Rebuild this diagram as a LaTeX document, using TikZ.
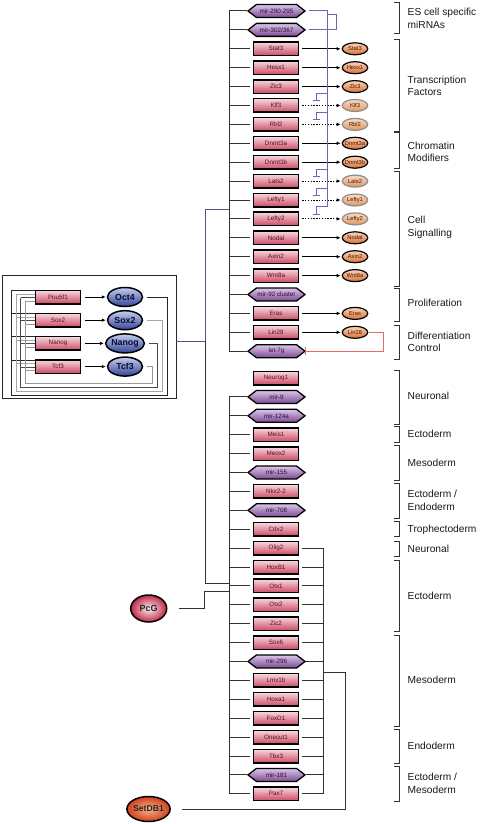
\documentclass[tikz,border=0pt]{standalone}
\usepackage{fontspec}
\setmainfont{Liberation Sans}
\usetikzlibrary{shapes.geometric,shapes.symbols,arrows.meta,calc}
\definecolor{boxT}{HTML}{F6D8DE}
\definecolor{boxB}{HTML}{CC4A66}
\definecolor{boxTx}{HTML}{5A0E1E}
\definecolor{hexT}{HTML}{DCC6EA}
\definecolor{hexB}{HTML}{7A4A92}
\definecolor{hexTx}{HTML}{2A0A3A}
\definecolor{elT}{HTML}{FAD4B6}
\definecolor{elB}{HTML}{D6703A}
\definecolor{elTx}{HTML}{4A1800}
\definecolor{elwT}{HTML}{F8DCC8}
\definecolor{elwB}{HTML}{E0955E}
\definecolor{bluT}{HTML}{C4CEF0}
\definecolor{bluB}{HTML}{34449A}
\definecolor{bluTx}{HTML}{0A0A30}
\definecolor{purp}{HTML}{6E64B4}
\definecolor{redl}{HTML}{E26A6A}
\definecolor{pcgIn}{HTML}{FBEFF2}
\definecolor{pcgOut}{HTML}{C02848}
\definecolor{sdIn}{HTML}{F6B48C}
\definecolor{sdOut}{HTML}{D0401E}
\newcommand{\ztxt}[1]{\makebox[0pt]{#1}}
\tikzset{
 gbox/.style={rectangle, draw=black, line width=1.5pt, minimum width=45pt, minimum height=13.5pt, inner sep=0pt, top color=boxT, bottom color=boxB, text=boxTx, font=\fontsize{6.3}{7}\selectfont},
 mhex/.style={signal, signal to=west and east, signal pointer angle=75, draw=black, line width=1.3pt, minimum width=57pt, minimum height=13pt, inner sep=0pt, top color=hexT, bottom color=hexB, text=hexTx, font=\fontsize{6.3}{7}\selectfont},
 tgt/.style={ellipse, draw=black, line width=1.2pt, minimum width=25.5pt, minimum height=12pt, inner sep=0pt, top color=elT, bottom color=elB, text=elTx, font=\fontsize{5.8}{6}\selectfont},
 tgtw/.style={tgt, draw=black!45, top color=elwT, bottom color=elwB},
 tfnode/.style={ellipse, draw=black, line width=1.5pt, minimum width=35pt, minimum height=19pt, inner sep=0pt, top color=bluT, bottom color=bluB, text=bluTx, font=\fontsize{8.8}{9}\selectfont\bfseries},
 tick/.style={draw=black!80, line width=1pt},
 arr/.style={draw=black, line width=1pt, -{Latex[length=4pt,width=3.6pt]}},
 darr/.style={arr, dash pattern=on 1.4pt off 1.4pt},
 purl/.style={draw=purp, line width=1pt},
 inh/.style={purl, -{Bar[width=7pt,line width=1pt]}},
 redinh/.style={draw=redl, line width=1.2pt, -{Bar[width=8pt,line width=1.2pt]}},
 brk/.style={draw=black!80, line width=1pt},
 lab/.style={anchor=west, inner sep=0pt, align=left, font=\fontsize{10.2}{12.5}\selectfont, text=black!90},
 lp/.style={line width=0.9pt},
}
\begin{document}
\begin{tikzpicture}[x=1pt,y=-1pt]
\useasboundingbox (0,0) rectangle (480,824);
\coordinate (tb) at (229,0);
\coordinate (pv) at (327,0);
\coordinate (pv2) at (336,0);
\coordinate (rb) at (323,0);

% ---------------- core circuit box ----------------
\node[draw=black!85, line width=0.8pt, minimum width=174pt, minimum height=123.5pt, inner sep=0pt] (core) at (89,336.75) {};
\node[gbox] (p0) at (58,297) {Pou5f1};
\node[gbox] (p1) at (58,320.2) {Sox2};
\node[gbox] (p2) at (58,343.4) {Nanog};
\node[gbox] (p3) at (58,366.6) {Tcf3};
\node[tfnode] (c0) at (125,297) {Oct4};
\node[tfnode] (c1) at (125,320.2) {Sox2};
\node[tfnode] (c2) at (125,343.4) {Nanog};
\node[tfnode] (c3) at (125,366.6) {Tcf3};
\foreach \k/\xr/\xl/\yb/\col in {0/167/11/395/black!85, 1/162/16/391/black!35, 2/157/20.5/387/black!70, 3/152.5/25/383/black!40}{
  \coordinate (lx\k) at (\xl,0);
  \foreach \j in {0,1,2,3}{
    \coordinate (en\j\k) at ($(p\j.west)+(0,-6.5+3.5*\k)$);
    \draw[lp, draw=\col] (en\j\k -| lx\k) -- (en\j\k);
  }
  \draw[lp, draw=\col] ([xshift=4pt]c\k.east) -| (\xr,\yb) -| (en0\k -| lx\k);
}
\foreach \j in {0,1,2,3}{
  \draw[arr] ([xshift=4pt]p\j.east) -- ([xshift=-1pt]c\j.west);
}

% ---------------- upper group ----------------
\node[mhex] (m290) at (276.5,11) {mir-290-295};
\node[mhex] (m302) at (276.5,29.9) {mir-302/367};
\node[gbox] (Stat3) at (276,48.8) {Stat3};
\node[gbox] (Hesx1) at (276,67.7) {Hesx1};
\node[gbox] (Zic3) at (276,86.6) {Zic3};
\node[gbox] (Klf3) at (276,105.5) {Klf3};
\node[gbox] (Rbl2) at (276,124.4) {Rbl2};
\node[gbox] (Dnmt3a) at (276,143.3) {Dnmt3a};
\node[gbox] (Dnmt3b) at (276,162.2) {Dnmt3b};
\node[gbox] (Lats2) at (276,181.1) {Lats2};
\node[gbox] (Lefty1) at (276,200) {Lefty1};
\node[gbox] (Lefty2) at (276,218.9) {Lefty2};
\node[gbox] (Nodal) at (276,237.8) {Nodal};
\node[gbox] (Axin2) at (276,256.7) {Axin2};
\node[gbox] (Wnt8a) at (276,275.6) {Wnt8a};
\node[mhex] (m92) at (276.5,294.5) {mir-92 cluster};
\node[gbox] (Eras) at (276,313.4) {Eras};
\node[gbox] (Lin28) at (276,332.3) {Lin28};
\node[mhex] (let7g) at (276.5,351.2) {let-7g};

\foreach \n in {Stat3,Hesx1,Zic3,Dnmt3a,Dnmt3b,Nodal,Axin2,Wnt8a,Eras,Lin28}{
  \node[tgt] (e\n) at (355,0 |- \n) {\ztxt{\n}};
  \draw[arr] ([xshift=3pt]\n.east) -- ([xshift=-1pt]e\n.west);
}
\foreach \n in {Klf3,Rbl2,Lats2,Lefty1,Lefty2}{
  \node[tgtw] (e\n) at (355,0 |- \n) {\ztxt{\n}};
  \draw[darr] ([xshift=3pt]\n.east) -- ([xshift=-1pt]e\n.west);
  \draw[inh] ($(pv |- \n)+(0,-12)$) -| ($(\n.east)+(17,-4)$);
}
% miRNA lines to inhibition hub
\draw[purl] ([xshift=3pt]m290.east) -- (pv |- m290.east) -- ($(pv |- Lefty2)+(0,-12)$);
\draw[purl] ([xshift=3pt]m302.east) -- (pv2 |- m302.east) -- ($(pv2 |- m290.east)+(0,4)$) -- ($(pv |- m290.east)+(0,4)$);

% Lin28 -| let-7g
\draw[redinh] ([xshift=1pt]eLin28.east) -- ++(14,0) |- ([xshift=-1pt]let7g.east);

% left bus (upper)
\foreach \n in {Stat3,Hesx1,Zic3,Klf3,Rbl2,Dnmt3a,Dnmt3b,Lats2,Lefty1,Lefty2,Nodal,Axin2,Wnt8a,Eras,Lin28}{
  \draw[tick] (\n.west -| tb) -- ([xshift=-3pt]\n.west);
}
\foreach \n in {m290,m302,m92,let7g}{
  \draw[tick] (\n.west -| tb) -- (\n.west);
}
\draw[tick] (m290.west -| tb) -- (let7g.west -| tb);

% ---------------- lower group ----------------
\node[gbox] (Neurog1) at (276,378) {Neurog1};
\node[mhex] (m9) at (276.5,396.9) {mir-9};
\node[mhex] (m124a) at (276.5,415.8) {mir-124a};
\node[gbox] (Meis1) at (276,434.7) {Meis1};
\node[gbox] (Meox2) at (276,453.6) {Meox2};
\node[mhex] (m155) at (276.5,472.5) {mir-155};
\node[gbox] (Nkx22) at (276,491.4) {Nkx2-2};
\node[mhex] (m708) at (276.5,510.3) {mir-708};
\node[gbox] (Cdx2) at (276,529.2) {Cdx2};
\node[gbox] (Olig2) at (276,548.1) {Olig2};
\node[gbox] (HoxB1) at (276,567) {HoxB1};
\node[gbox] (Otx1) at (276,585.9) {Otx1};
\node[gbox] (Otx2) at (276,604.8) {Otx2};
\node[gbox] (Zic2) at (276,623.7) {Zic2};
\node[gbox] (Sox6) at (276,642.6) {Sox6};
\node[mhex] (m296) at (276.5,661.5) {mir-296};
\node[gbox] (Lmx1b) at (276,680.4) {Lmx1b};
\node[gbox] (Hoxa1) at (276,699.3) {Hoxa1};
\node[gbox] (FoxD1) at (276,718.2) {FoxD1};
\node[gbox] (Onecut1) at (276,737.1) {Onecut1};
\node[gbox] (Tbx3) at (276,756) {Tbx3};
\node[mhex] (m181) at (276.5,774.9) {mir-181};
\node[gbox] (Pax7) at (276,793.8) {Pax7};

\foreach \n in {Meis1,Meox2,Nkx22,Cdx2,Olig2,HoxB1,Otx1,Otx2,Zic2,Sox6,Lmx1b,Hoxa1,FoxD1,Onecut1,Tbx3,Pax7}{
  \draw[tick] (\n.west -| tb) -- ([xshift=-3pt]\n.west);
}
\foreach \n in {m9,m124a,m155,m708,m296,m181}{
  \draw[tick] (\n.west -| tb) -- (\n.west);
}
\draw[tick] (m9.west -| tb) -- (Pax7.west -| tb);
% right bus (lower)
\foreach \n in {Olig2,HoxB1,Otx1,Otx2,Zic2,Sox6,Lmx1b,Hoxa1,FoxD1,Onecut1,Tbx3,Pax7}{
  \draw[tick] ([xshift=3pt]\n.east) -- (\n.east -| rb);
}
\foreach \n in {m296,m181}{
  \draw[tick] (\n.east) -- (\n.east -| rb);
}
\draw[tick] (Olig2.east -| rb) -- (Pax7.east -| rb);

% core circuit to the buses
\coordinate (split) at (205,341);
\coordinate (upj) at (229,209);
\coordinate (loj) at (229,583);
\draw[draw=purp!80!black, line width=1pt] (core.east |- split) -- (split) |- (upj);
\draw[tick] (split) |- (loj);

% PcG and SetDB1
\node[ellipse, draw=black, line width=1.5pt, minimum width=36pt, minimum height=27pt, inner sep=0pt, inner color=pcgIn, outer color=pcgOut, font=\fontsize{9}{9}\selectfont\bfseries, text=black!85] (PcG) at (148.7,608.5) {PcG};
\node[ellipse, draw=black, line width=1.5pt, minimum width=37pt, minimum height=25pt, inner sep=0pt, inner color=sdIn, outer color=sdOut, font=\fontsize{8.6}{9}\selectfont\bfseries, text=black!85] (SetDB1) at (148.5,809) {SetDB1};
\coordinate (pcgj) at (229,591.7);
\draw[tick] ([xshift=12pt]PcG.east) -- (204.3,608.5) |- (pcgj);
\coordinate (sdj) at (345,672.7);
\draw[tick] ([xshift=11pt]SetDB1.east) -| (sdj) -- (sdj -| rb);

% ---------------- brackets and labels ----------------
\foreach \t/\b/\i in {2.7/34/1, 40/131.7/2, 133/168.3/3, 171.7/286.7/4, 288/321.7/5, 325/359.3/6, 370/424/7, 426/442.7/8, 445/480.7/9, 483/518/10, 521.7/536.7/11, 541.7/556/12, 560.7/631.7/13, 635/726/14, 729.3/763.3/15, 766.7/801.7/16}{
  \draw[brk] (394,\t) -- (399,\t) -- (399,\b) -- (394,\b);
}
\node[lab] (L1) at (407.5,18.5) {ES cell specific\\miRNAs};
\node[lab] (L2) at (407.5,86) {Transcription\\Factors};
\node[lab] (L3) at (407.5,152) {Chromatin\\Modifiers};
\node[lab] (L4) at (407.5,227.3) {Cell\\Signalling};
\node[lab] (L5) at (407.5,303.3) {Proliferation};
\node[lab] (L6) at (407.5,342) {Differentiation\\Control};
\node[lab] (L7) at (407.5,396) {Neuronal};
\node[lab] (L8) at (407.5,434) {Ectoderm};
\node[lab] (L9) at (407.5,462.7) {Mesoderm};
\node[lab] (L10) at (407.5,500.3) {Ectoderm /\\Endoderm};
\node[lab] (L11) at (407.5,530) {Trophectoderm};
\node[lab] (L12) at (407.5,549) {Neuronal};
\node[lab] (L13) at (407.5,596) {Ectoderm};
\node[lab] (L14) at (407.5,680) {Mesoderm};
\node[lab] (L15) at (407.5,746) {Endoderm};
\node[lab] (L16) at (407.5,783.3) {Ectoderm /\\Mesoderm};
\end{tikzpicture}
\end{document}
